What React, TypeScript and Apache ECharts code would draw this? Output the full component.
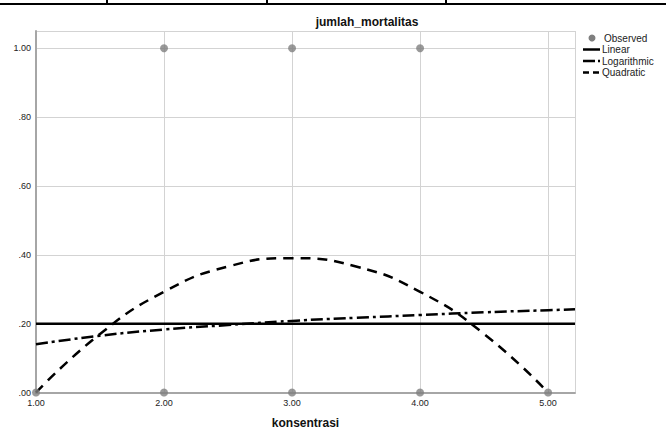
import React, { useEffect, useRef } from "react";
import * as echarts from "echarts";

const observedX = [1, 2, 3, 4, 5, 2, 3, 4];
const observedY = [0, 0, 0, 0, 0, 1, 1, 1];

const linearX = [1, 5.21];
const linearY = [0.2, 0.2];

const logX = [1, 1.5, 2, 2.5, 3, 3.5, 4, 4.5, 5, 5.21];
const logY = [0.14, 0.165, 0.183, 0.196, 0.208, 0.217, 0.225, 0.233, 0.239, 0.242];

const quadX = [1, 1.5, 2, 2.5, 3, 3.5, 4, 4.5, 5];
const quadY = [0, 0.17, 0.2925, 0.366, 0.39, 0.366, 0.2925, 0.17, 0];

const legendNames = ["Observed", "Linear", "Logarithmic", "Quadratic"];

const FONT = "'Liberation Sans', Arial, sans-serif";

export default function App() {
  const ref = useRef<HTMLDivElement>(null);
  useEffect(() => {
    if (!ref.current) return;
    const chart = echarts.init(ref.current, undefined, { renderer: "svg" });
    const zip = (xs: number[], ys: number[]) => xs.map((x, i) => [x, ys[i]]);
    const legendTop = 38;
    const gap = 11.5;
    const lx1 = 583;
    const lx2 = 600;
    const graphics: any[] = [
      { type: "rect", shape: { x: 0, y: 3, width: 666, height: 2 }, style: { fill: "#000" } },
      { type: "rect", shape: { x: 106, y: 0, width: 2, height: 4 }, style: { fill: "#000" } },
      { type: "rect", shape: { x: 266, y: 0, width: 2, height: 4 }, style: { fill: "#000" } },
      { type: "rect", shape: { x: 445, y: 0, width: 2, height: 4 }, style: { fill: "#000" } },
      { type: "circle", shape: { cx: 592, cy: legendTop, r: 3.5 }, style: { fill: "#7f7f7f" } },
      { type: "line", shape: { x1: lx1, y1: legendTop + gap, x2: lx2, y2: legendTop + gap }, style: { stroke: "#000", lineWidth: 2.5 } },
      { type: "line", shape: { x1: lx1, y1: legendTop + 2 * gap, x2: lx2, y2: legendTop + 2 * gap }, style: { stroke: "#000", lineWidth: 2.5, lineDash: [12, 3, 2, 3] } },
      { type: "line", shape: { x1: lx1, y1: legendTop + 3 * gap, x2: lx2, y2: legendTop + 3 * gap }, style: { stroke: "#000", lineWidth: 2.5, lineDash: [6, 4] } },
    ];
    legendNames.forEach((n, i) => {
      graphics.push({
        type: "text",
        x: i === 0 ? 604 : 602,
        y: legendTop + i * gap,
        style: { text: n, font: `10px ${FONT}`, fill: "#222", textVerticalAlign: "middle", verticalAlign: "middle" },
      });
    });
    chart.setOption({
      animation: false,
      backgroundColor: "#fff",
      title: {
        text: "jumlah_mortalitas",
        left: 362,
        top: 11,
        textAlign: "center",
        textStyle: { fontFamily: FONT, fontSize: 12, fontWeight: "bold", color: "#111" },
      },
      grid: { left: 36, right: 91, top: 31, bottom: 43.5, containLabel: false, outerBoundsMode: "none" },
      xAxis: {
        type: "value",
        min: 1,
        max: 5.21,
        interval: 1,
        name: "konsentrasi",
        nameLocation: "middle",
        nameGap: 24,
        nameTextStyle: { fontFamily: FONT, fontSize: 12, fontWeight: "bold", color: "#111" },
        axisLine: { show: true, lineStyle: { color: "#a6a6a6", width: 2 } },
        axisTick: { show: false },
        axisLabel: {
          fontFamily: FONT,
          fontSize: 9,
          color: "#222",
          margin: 6,
          showMaxLabel: false,
          formatter: (v: number) => (Math.abs(v - Math.round(v)) < 1e-6 ? v.toFixed(2) : ""),
        },
        splitLine: { show: true, lineStyle: { color: "#d3d3d3", width: 1 } },
      },
      yAxis: {
        type: "value",
        min: 0,
        max: 1.05,
        interval: 0.2,
        axisLine: { show: true, lineStyle: { color: "#a6a6a6", width: 2 } },
        axisTick: { show: false },
        axisLabel: {
          fontFamily: FONT,
          fontSize: 9,
          color: "#222",
          margin: 5,
          showMaxLabel: false,
          formatter: (v: number) => {
            const r = Math.round(v / 0.2) * 0.2;
            if (Math.abs(v - r) > 1e-6) return "";
            return r.toFixed(2).replace(/^0/, "");
          },
        },
        splitLine: { show: true, lineStyle: { color: "#d3d3d3", width: 1 } },
      },
      series: [
        {
          name: "Linear",
          type: "line",
          data: zip(linearX, linearY),
          showSymbol: false,
          lineStyle: { color: "#000", width: 2.5 },
          z: 3,
        },
        {
          name: "Logarithmic",
          type: "line",
          data: zip(logX, logY),
          smooth: true,
          showSymbol: false,
          lineStyle: { color: "#000", width: 2.5, type: [12, 4, 3, 4] },
          z: 3,
        },
        {
          name: "Quadratic",
          type: "line",
          data: zip(quadX, quadY),
          smooth: true,
          showSymbol: false,
          lineStyle: { color: "#000", width: 2.5, type: [10, 7] },
          z: 3,
        },
        {
          name: "Observed",
          type: "scatter",
          data: zip(observedX, observedY),
          symbolSize: 8,
          itemStyle: { color: "#7f7f7f" },
          z: 4,
        },
      ],
      graphic: graphics,
    });
    return () => chart.dispose();
  }, []);
  return (
    <div
      ref={ref}
      style={{ position: "fixed", left: 0, top: 0, width: 666, height: 436, background: "#fff" }}
    />
  );
}
